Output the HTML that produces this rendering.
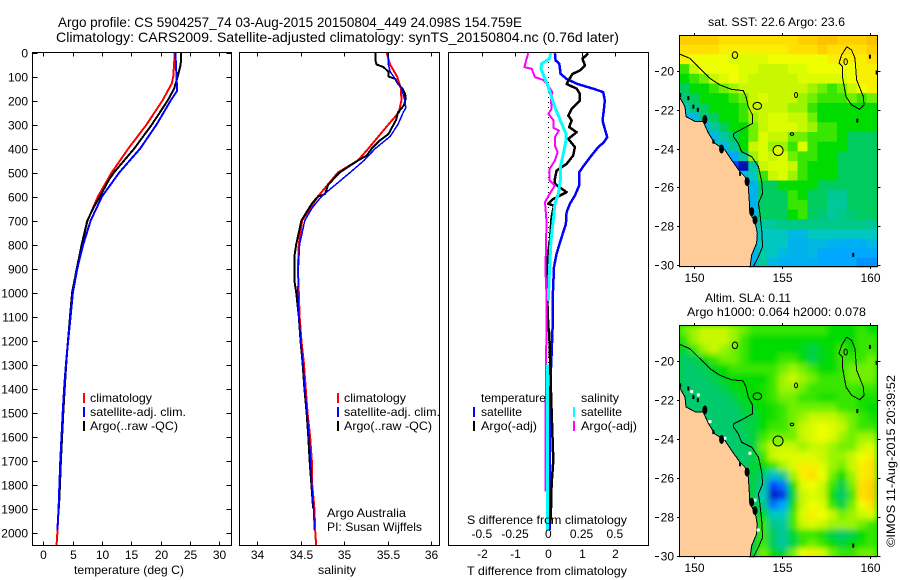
<!DOCTYPE html>
<html lang="en">
<head>
<meta charset="utf-8">
<title>Argo profile 5904257_74</title>
<style>
html,body{margin:0;padding:0;background:#fff;}
svg{display:block;font-family:"Liberation Sans",sans-serif;font-size:12px;fill:#000;}
</style>
</head>
<body>
<svg id="chart" xmlns="http://www.w3.org/2000/svg" width="900" height="580" viewBox="0 0 900 580">
  <defs>
    <clipPath id="clip-map-sst"><rect x="679.5" y="35.5" width="198" height="232"/></clipPath>
    <clipPath id="clip-map-sla"><rect x="679.5" y="325.5" width="198" height="232"/></clipPath>
    <clipPath id="clip-t"><rect x="32" y="52" width="200" height="494"/></clipPath>
    <clipPath id="clip-s"><rect x="239" y="52" width="201" height="494"/></clipPath>
    <clipPath id="clip-d"><rect x="448" y="52" width="201" height="494"/></clipPath>
    <filter id="sla-blur" x="-5%" y="-5%" width="110%" height="110%"><feGaussianBlur stdDeviation="3"/></filter>
  </defs>

  <text x="58" y="27" font-size="14" textLength="464" lengthAdjust="spacingAndGlyphs">Argo profile: CS 5904257_74 03-Aug-2015 20150804_449 24.098S 154.759E</text>
  <text x="56" y="42" font-size="14" textLength="563" lengthAdjust="spacingAndGlyphs">Climatology: CARS2009. Satellite-adjusted climatology: synTS_20150804.nc (0.76d later)</text>

  <g id="layer-t"></g>
  <g id="layer-s"></g>
  <g id="layer-d"></g>
  <g id="layer-map1"></g>
  <g id="layer-map2"></g>

  <text x="74" y="574" textLength="110" lengthAdjust="spacingAndGlyphs">temperature (deg C)</text>
  <text x="318" y="574" textLength="38" lengthAdjust="spacingAndGlyphs">salinity</text>
  <text x="467" y="524" textLength="160" lengthAdjust="spacingAndGlyphs">S difference from climatology</text>
  <text x="467" y="575" textLength="160" lengthAdjust="spacingAndGlyphs">T difference from climatology</text>

  <g>
    <rect x="83" y="393" width="2" height="10" fill="#f00"/>
    <rect x="83" y="407" width="2" height="10" fill="#00f"/>
    <rect x="83" y="421" width="2" height="10" fill="#000"/>
    <text x="90" y="402" textLength="62" lengthAdjust="spacingAndGlyphs">climatology</text>
    <text x="90" y="416" textLength="96" lengthAdjust="spacingAndGlyphs">satellite-adj. clim.</text>
    <text x="90" y="430" textLength="88" lengthAdjust="spacingAndGlyphs">Argo(..raw -QC)</text>
  </g>
  <g>
    <rect x="337" y="393" width="2" height="10" fill="#f00"/>
    <rect x="337" y="407" width="2" height="10" fill="#00f"/>
    <rect x="337" y="421" width="2" height="10" fill="#000"/>
    <text x="344" y="402" textLength="62" lengthAdjust="spacingAndGlyphs">climatology</text>
    <text x="344" y="416" textLength="96" lengthAdjust="spacingAndGlyphs">satellite-adj. clim.</text>
    <text x="344" y="430" textLength="88" lengthAdjust="spacingAndGlyphs">Argo(..raw -QC)</text>
    <text x="327" y="517" textLength="79" lengthAdjust="spacingAndGlyphs">Argo Australia</text>
    <text x="327" y="531" textLength="95" lengthAdjust="spacingAndGlyphs">PI: Susan Wijffels</text>
  </g>
  <g>
    <text x="481" y="402" textLength="65" lengthAdjust="spacingAndGlyphs">temperature</text>
    <rect x="473" y="407" width="2" height="10" fill="#00f"/>
    <text x="481" y="416" textLength="41" lengthAdjust="spacingAndGlyphs">satellite</text>
    <rect x="473" y="421" width="2" height="10" fill="#000"/>
    <text x="481" y="430" textLength="56" lengthAdjust="spacingAndGlyphs">Argo(-adj)</text>
    <text x="581" y="402" textLength="38" lengthAdjust="spacingAndGlyphs">salinity</text>
    <rect x="573" y="407" width="2" height="10" fill="#0ff"/>
    <text x="581" y="416" textLength="41" lengthAdjust="spacingAndGlyphs">satellite</text>
    <rect x="573" y="421" width="2" height="10" fill="#f0f"/>
    <text x="581" y="430" textLength="56" lengthAdjust="spacingAndGlyphs">Argo(-adj)</text>
  </g>

  <text x="708" y="26" textLength="137" lengthAdjust="spacingAndGlyphs">sat. SST: 22.6 Argo: 23.6</text>
  <text x="705" y="302" textLength="86" lengthAdjust="spacingAndGlyphs">Altim. SLA: 0.11</text>
  <text x="687" y="316" textLength="179" lengthAdjust="spacingAndGlyphs">Argo h1000: 0.064 h2000: 0.078</text>
  <text transform="translate(895,547) rotate(-90)" textLength="172" lengthAdjust="spacingAndGlyphs">©IMOS 11-Aug-2015 20:39:52</text>
</svg>

<script>
// ---------- profile data ----------
const depthTicks = [0,100,200,300,400,500,600,700,800,900,1000,1100,1200,1300,1400,1500,1600,1700,1800,1900,2000];
const tempTicks = [0,5,10,15,20,25,30];
const salTicks = ["34","34.5","35","35.5","36"];
const tDiffTicks = ["-2","-1","0","1","2"];
const sDiffTicks = ["-0.5","-0.25","0","0.25","0.5"];
const mapLonTicks = [150,155,160];
const mapLatTicks = [20,22,24,26,28,30];

const tempClimDepth = [0,100,130,200,300,400,500,600,700,800,900,1000,1100,1200,1300,1400,1500,1600,1700,1800,1900,2000,2055];
const tempClimValue = [22.4,22.15,21.87,20.3,17.6,14.5,11.65,9.3,7.55,6.6,5.8,5.0,4.6,4.2,3.85,3.55,3.3,3.1,2.9,2.75,2.6,2.4,2.25];
const tempSatDepth = [0,100,160,200,300,400,500,600,700,800,900,1000,1100,1200,1300,1400,1500,1600,1700,1800,1900,1990];
const tempSatValue = [22.5,22.7,22.8,21.7,19.3,16.5,12.95,10,8.07,6.8,5.8,5.05,4.65,4.25,3.85,3.55,3.3,3.1,2.9,2.75,2.6,2.4];
const tempArgoDepth = [0,50,80,100,150,200,300,400,500,530,600,640,700,800,900,1000,1100,1200,1300,1400,1500,1600,1700,1800,1900];
const tempArgoValue = [23.5,23.4,23.1,22.9,22.3,21.2,18.5,15.5,12.05,11.2,9.66,8.7,7.5,6.55,5.7,4.9,4.55,4.2,3.9,3.65,3.4,3.2,3.0,2.85,2.65];

const salClimDepth = [0,50,100,150,200,250,300,400,450,500,600,650,700,800,900,1000,1100,1200,1300,1400,1500,1600,1700,1800,1900,2000,2055];
const salClimValue = [35.49,35.53,35.61,35.655,35.66,35.63,35.51,35.28,35.16,34.93,34.7,34.61,34.52,34.48,34.47,34.48,34.49,34.51,34.54,34.56,34.58,34.61,34.63,34.635,34.66,34.67,34.68];
const salSatDepth = [0,50,80,100,130,150,200,230,250,300,350,400,450,500,600,650,700,800,900,1000,1100,1200,1300,1400,1500,1600,1700,1800,1900,1990];
const salSatValue = [35.51,35.51,35.53,35.57,35.62,35.66,35.7,35.71,35.68,35.62,35.53,35.36,35.23,35.07,34.74,34.63,34.55,34.49,34.475,34.47,34.48,34.5,34.53,34.55,34.575,34.6,34.617,34.63,34.65,34.66];
const salArgoDepth = [0,30,50,60,80,100,110,130,150,170,190,220,250,280,300,340,370,400,430,450,500,550,590,600,630,700,800,850,950,1000,1100,1200,1300,1400,1500,1600,1700,1800,1900];
const salArgoValue = [35.36,35.36,35.375,35.45,35.51,35.51,35.59,35.62,35.67,35.7,35.71,35.69,35.62,35.6,35.57,35.51,35.4,35.32,35.26,35.16,34.95,34.82,34.78,34.7,34.63,34.51,34.45,34.43,34.43,34.45,34.48,34.5,34.525,34.545,34.57,34.59,34.605,34.625,34.645];

const tDiffSatDepth = [3,33,47,89,110,130,151,165,200,242,283,318,353,374,394,429,471,499,554,596,631,665,714,783,838,894,1033,1144,1256,1352,1600,1990];
const tDiffSatValue = [0.2,0.22,0.33,0.37,0.55,0.85,1.35,1.65,1.7,1.67,1.63,1.7,1.77,1.67,1.5,1.3,1.07,0.93,0.93,0.8,0.65,0.55,0.53,0.37,0.25,0.17,0.13,0.13,0.1,0.07,0.05,0.05];
const tDiffArgoDepth = [3,26,54,75,89,117,131,151,172,200,235,263,283,311,332,360,394,429,464,492,526,547,582,610,631,638,686,783,853,922,1033,1144,1172,1458,1700,1797,1900,1964];
const tDiffArgoValue = [1.2,1.03,1.1,0.95,0.73,0.6,0.55,0.85,0.95,0.95,0.7,0.6,0.7,0.63,0.85,0.6,0.8,0.75,0.55,0.25,0.2,0.2,0.55,0.15,0,0.17,0.1,0.05,-0.03,-0.05,-0.03,0,0.03,0.09,0.15,0.1,0.08,0.06];
const sDiffSatDepth = [3,26,47,68,103,131,186,228,283,339,367,422,478,533,589,631,686,783,922,1033,1060,1300,1600,1991];
const sDiffSatValue = [0.018,0.008,-0.05,-0.055,-0.03,-0.008,0.025,0.05,0.09,0.133,0.133,0.113,0.09,0.09,0.075,0.05,0.04,0.02,0.0075,0,null,-0.005,-0.005,-0.005];
const sDiffArgoDepth = [3,26,61,68,103,114,131,165,200,235,256,283,314,325,353,388,415,450,485,533,554,589,623,714,783,922,1033,1500,1830];
const sDiffArgoValue = [-0.15,-0.163,-0.18,-0.125,-0.1,-0.04,-0.01,0.03,0.02,0.025,0,0.04,0.04,0.08,0.05,0.05,0.07,0.05,0.01,0.01,0.05,0.01,-0.025,-0.012,-0.018,-0.02,-0.012,-0.02,-0.02];

// ---------- map data: colour level per grid cell, north to south ----------
const sstLevels = [
[9.5,9.5,9.5,9.5,9,9,9,9,9,9,9,9,9.5,9.5,10,10,9.5,9.5,9.5,10],
[9,9,9,9,8.5,8.5,8.5,8.5,8.5,8.5,8.5,9,9,9,9.5,9,9,9,9,9.5],
[8.5,8,8,8,8,7.5,7.5,7.5,7.5,8,8,8,8,8,8,8.5,8.5,8.5,8.5,9],
[5.5,7,8,8,8,8,7.5,7.5,7,7,7,7.5,7.5,8,8,8,8,8,8.5,8.5],
[5,5.5,6,7,7.5,8,7.5,7,7,7,7,7,7.5,7.5,7.5,7.5,7.5,8,8.5,8.5],
[4.2,5,5,5.5,6,6.5,7,7,7,7,7,7,7,6.5,6,5.5,6,7,8,8.5],
[4,4.2,5,5,5,5.5,6,7,7.5,7,7,7,6.5,6,5.5,5.5,5.5,6,5.5,6],
[3,4,4.2,5,5,5,5.5,7,7,7,7,6.5,6.5,5.5,5,5,5,5,5,5],
[2.5,2.5,4,4.2,5,5,5.5,6.5,7,7.5,7.5,7,7,6,5,5,5,5,5,5],
[3,3,2.5,3.5,4.2,5,5,6,7,7.5,7.5,7.5,7,6.5,5.5,5.5,5,5,5,5],
[3,3,3,2.5,3.5,4.2,5,6,7.5,7,7,6,6,5.5,5.5,5.5,5,4.2,4.2,4.2],
[3,3,3,3,2.5,3.5,5,7,7.5,6.5,6.5,5.5,7.5,5.5,5,5,5,4.2,4.2,4.2],
[3,3,3,3,3,2,3.5,6.5,7.5,7,7.5,6,5.5,5.5,5,5,4.2,4.2,4.2,4.2],
[3,3,3,3,3,1,0.3,3.5,7,7.5,7.5,7,5.5,5,5,5,4.2,4.2,4.2,4.2],
[3,3,3,3,3,3,2.5,3,5.5,7,7.5,6.5,5.5,5,5,5,4.2,4.2,4.2,4.2],
[3,3,3,3,3,3,2,2.3,4.2,4.2,5,5,5,5,4.2,4.2,4.2,4.2,4.2,4.2],
[3,3,3,3,3,3,3,2.3,4.2,4.2,4.2,5.5,5,4.2,4.2,3.6,3.6,4.2,4.2,4.2],
[3,3,3,3,3,3,2,2.3,4.2,4.2,4.2,5.5,5.5,4.2,4.2,3.5,3.5,4.2,4.2,4.2],
[3,3,3,3,3,3,2,2.3,4.2,4.2,4.2,5,5.5,4.2,4,3.5,3.8,4,4.2,4.2],
[3,3,3,3,3,3,2,2.5,3.5,3.5,3.8,3.8,3.8,3.8,3.8,3.8,3.8,3.8,3.8,3.6],
[3,3,3,3,3,3,2,2.5,3,3,3,2.5,2.5,3,3,3,3,3,3,3],
[3,3,3,3,3,3,2,2.3,3,3,3,2.3,2.3,2.5,2.5,2.3,2.2,2.2,2.2,2.5],
[3,3,3,3,3,3,2,2.3,3.3,3,2.5,2.3,2.3,2.5,2,2,2,2,2,2],
[3,3,3,3,3,3,2,2.3,3.5,2.5,2.2,2.2,2.2,2.2,2,2,2,2,1.8,1.8]
];
const slaLevels = [
[6,6.5,7,7,7,6.5,6,5.5,5.5,5.5,5.5,5.5,5.5,5.5,5.5,5,5,5,5.5,5],
[5.5,6.5,7,7,7,6.5,5.5,5,5,5,5,5,5,5,5,5,5,5,5.5,5.5],
[4.6,5.5,6.5,7,6.5,6,5.5,5,5,5,5,5,4.8,4.4,4.8,5,5.5,5,5.5,5.5],
[4.1,4.3,5,5.5,6,6,5.5,5,5,5,5.5,5.5,5,4.4,4.8,5,5.5,5.5,5.5,6],
[4.1,4.1,4.3,4.8,5,5.5,5.5,5.5,5.5,5.5,6,6.5,6,5.5,5,5,5.5,6,6,6],
[4.1,4.1,4.1,4.4,4.8,5,5,5,5,5.5,6.5,7,6.5,6,5.5,5.5,5.5,6,6,6],
[4.1,4.1,4.1,4.1,4.4,4.8,5,5,5.2,5.5,6.5,6.5,6,5.5,5.5,5.5,5.5,5.5,5.5,5.5],
[4.1,4.1,4.1,4.1,4.1,4.4,4.8,5,5.2,5.5,6,6,5.5,5.5,5.2,5.2,5.5,5.5,5.2,5.2],
[4.1,4.1,4.1,4.1,4.1,4.1,4.5,4.8,5,5.2,5.5,6,6,6,6,6,5.5,5.5,5.2,5],
[4.1,4.1,4.1,4.1,4.1,4.1,4.3,4.5,5,5.2,5.5,6,6.5,7,7,7,6.5,6,5.5,5.2],
[4.1,4.1,4.1,4.1,4.1,4.1,4.3,4.5,5,5.5,5.5,6,7,7.5,8,7.5,7,6,5.5,5.5],
[4.1,4.1,4.1,4.1,4.1,4.1,4.2,4.5,5.5,6,6,6,7,7.5,8,7.5,6.5,6,6.5,6.5],
[4.1,4.1,4.1,4.1,4.1,4.1,4.2,4.5,6,7,7,7,6.5,7,7,6.5,6,6,7,7.5],
[4.1,4.1,4.1,4.1,4.1,4.1,4.1,4.4,5.5,7,7.5,7.5,7.5,7.5,7,6.5,6.5,7,8,8.5],
[4.1,4.1,4.1,4.1,4.1,4.1,4.2,4.5,5,5.5,6.5,7.5,8.5,8.5,7.5,6.5,6,7,8.5,9],
[4.1,4.1,4.1,4.1,4.1,4.1,4.2,4.5,4,2.6,3.6,6.5,8.5,9,8,6,5,6.5,8.5,9],
[4.1,4.1,4.1,4.1,4.1,4.1,4.2,4.5,3.5,1,1.5,5,7.5,8,7,5.5,4.4,6,9,9.5],
[4.1,4.1,4.1,4.1,4.1,4.1,4.2,4.5,3,0.4,0.8,4.4,7,7.5,7,5,4.1,5.5,9,9.5],
[4.1,4.1,4.1,4.1,4.1,4.1,4.2,4.5,4,1.5,2,5,7,8,7.5,5.5,4.5,6,8,9],
[4.1,4.1,4.1,4.1,4.1,4.1,4.2,4.5,5,3,3,5.5,7.5,8.5,8,7,6,6.5,7,7.5],
[4.1,4.1,4.1,4.1,4.1,4.1,4.2,4.5,5.5,3.8,3.5,5.5,7,7.5,7,6.5,6.5,6.5,6,5.5],
[4.1,4.1,4.1,4.1,4.1,4.1,4.2,4.5,5.5,4.2,3.5,4.6,5.5,5.5,5.2,4.4,4.1,4.4,5,5.5],
[4.1,4.1,4.1,4.1,4.1,4.1,4.2,4.5,5.5,4.2,3.4,4.4,5.5,6,5.5,5,4.5,5,5.2,5.5],
[4.1,4.1,4.1,4.1,4.1,4.1,4.2,4.5,6,5,4.4,6,8,8.5,7.5,6,5.5,5.5,6,6]
];
const colorStops = ["#00008c","#0040ff","#00a8ff","#00c8c0","#00c878","#00dc00","#70f000","#c8f800","#f0ff00","#ffe000","#ffc000"];

const coastLon = [149.15,149.47,149.53,150.04,150.5,150.8,151.17,151.74,152.12,152.6,152.88,153.07,153.12,153.16,153.45,153.58,153.54,153.26,153.16,149.15];
const coastLat = [21.32,21.84,22.35,22.6,22.6,23.2,23.73,24.07,24.59,25.2,25.45,25.96,26.65,27.34,27.77,28.37,28.88,29.48,30.15,30.15];
const isobathLon = [149.15,149.75,150.32,150.89,151.46,152.12,152.78,152.94,153.07,153.31,153.31,152.69,152.25,152.22,152.5,152.69,153.26,153.64,153.83,153.88,153.64,153.73,153.83,153.88,153.64,153.35];
const isobathLat = [19.12,19.35,19.86,20.38,20.72,20.95,21.01,21.32,21.84,22.27,22.7,23.01,23.21,23.38,23.73,24.16,24.42,24.93,25.7,26.31,26.82,27.34,28.2,29.05,29.57,30.09];
const ridgeLon = [158.66,158.94,159.13,159.22,159.6,159.64,159.41,158.94,158.62,158.43,158.43,158.22,158.37,158.66];
const ridgeLat = [18.75,18.92,19.35,20.46,21.32,21.75,21.98,21.75,21.32,20.38,19.78,19.6,19.18,18.75];
const shoalLon = [152.31,153.58,155.78,155.55,158.6];
const shoalLat = [19.18,21.8,21.24,23.25,19.52];
const reefSmallLon = [149.2,149.66,149.95,150.2,151.08,152.6,159.98,159.26,159.03,160.36];
const reefSmallLat = [21.24,21.4,21.84,22.0,23.64,25.3,19.26,22.56,29.48,20.08];
const reefLargeLon = [150.6,151.55,153.0,153.26,153.45];
const reefLargeLat = [22.5,24.02,25.7,27.25,27.68];
const gapLon = [149.85,150.23,150.89,151.74,153.16,153.45,153.64];
const gapLat = [21.56,21.73,23.1,23.96,24.73,27.14,28.68];
const argoLon = 154.759;
const argoLat = 24.098;
const sstArgoLevel = 7.6;
const slaArgoLevel = 6.3;

// ---------- axis functions ----------
const SVGNS = "http://www.w3.org/2000/svg";
const yDepth = d => 52.5 + d * 0.24;
const xTemp = t => 43.3 + t * 5.87;
const xSal = s => 257 + (s - 34) * 87;
const xTDiff = t => 548.3 + t * 33.25;
const xSDiff = s => 548.3 + s * 133;
const xLon = lon => 694.3 + (lon - 150) * 17.6;
const yLatSst = lat => 71 + (lat - 20) * 19.4;
const yLatSla = lat => 361.3 + (lat - 20) * 19.44;

function make(parent, tag, geom) {
  const n = document.createElementNS(SVGNS, tag);
  for (const k in geom) n.setAttribute(k, geom[k]);
  parent.appendChild(n);
  return n;
}
function hexRgb(h) { return [1,3,5].map(i => parseInt(h.substr(i,2),16)); }
function levelColor(v) {
  const c = Math.max(0, Math.min(colorStops.length - 1.001, v));
  const i = Math.floor(c), f = c - i;
  const a = hexRgb(colorStops[i]), b = hexRgb(colorStops[i+1]);
  return "rgb(" + a.map((x,k) => Math.round(x + (b[k]-x)*f)).join(",") + ")";
}
function drawProfile(layer, clip, depths, values, xf, color, width, name) {
  const segments = [[]];
  depths.forEach((d,i) => {
    if (values[i] === null) { segments.push([]); return; }
    segments[segments.length-1].push(xf(values[i]).toFixed(1) + "," + yDepth(d).toFixed(1));
  });
  segments.forEach(seg => {
    const line = make(layer, "polyline", {points: seg.join(" "), fill:"none", stroke:color, "stroke-width":width, "stroke-linejoin":"round", "shape-rendering":"crispEdges", "clip-path":"url(#"+clip+")"});
    
    
  });
}
function tickLine(layer, x1, y1, x2, y2, name) {
  const t = make(layer, "line", {x1:x1, y1:y1, x2:x2, y2:y2, stroke:"#000", "stroke-width":1, "shape-rendering":"crispEdges"});
  
  
}
function tickText(layer, x, y, anchor, str, name) {
  const t = make(layer, "text", {x:x, y:y, "text-anchor":anchor});
  t.textContent = str;
  
  
}
function frame(layer, x, y, w, h, name) {
  const r = make(layer, "rect", {x:x, y:y, width:w, height:h, fill:"none", stroke:"#000", "stroke-width":1, "shape-rendering":"crispEdges"});
  
  
}

// ---------- temperature panel ----------
const layerT = document.getElementById("layer-t");
drawProfile(layerT, "clip-t", tempClimDepth, tempClimValue, xTemp, "#f00", 2, "temperature-climatology-line");
drawProfile(layerT, "clip-t", tempArgoDepth, tempArgoValue, xTemp, "#000", 2, "temperature-argo-line");
drawProfile(layerT, "clip-t", tempSatDepth, tempSatValue, xTemp, "#00f", 2, "temperature-satellite-line");
frame(layerT, 32.5, 52.5, 199, 493, "temperature-panel-frame");
depthTicks.forEach(d => {
  const y = Math.round(yDepth(d)) + 0.5;
  tickLine(layerT, 32.5, y, 37.5, y, "depth-tick-left");
  tickLine(layerT, 226.5, y, 231.5, y, "depth-tick-right");
  tickText(layerT, 28, y + 4, "end", String(d), "depth-tick-label");
});
tempTicks.forEach(t => {
  const x = Math.round(xTemp(t)) + 0.5;
  tickLine(layerT, x, 52.5, x, 56.5, "temperature-tick-top");
  tickLine(layerT, x, 541.5, x, 545.5, "temperature-tick-bottom");
  tickText(layerT, x, 559, "middle", String(t), "temperature-tick-label");
});

// ---------- salinity panel ----------
const layerS = document.getElementById("layer-s");
drawProfile(layerS, "clip-s", salClimDepth, salClimValue, xSal, "#f00", 2, "salinity-climatology-line");
drawProfile(layerS, "clip-s", salArgoDepth, salArgoValue, xSal, "#000", 2, "salinity-argo-line");
drawProfile(layerS, "clip-s", salSatDepth, salSatValue, xSal, "#00f", 1.5, "salinity-satellite-line");
frame(layerS, 239.5, 52.5, 200, 493, "salinity-panel-frame");
salTicks.forEach(s => {
  const x = Math.round(xSal(Number(s))) + 0.5;
  tickLine(layerS, x, 52.5, x, 56.5, "salinity-tick-top");
  tickLine(layerS, x, 541.5, x, 545.5, "salinity-tick-bottom");
  tickText(layerS, x, 559, "middle", s, "salinity-tick-label");
});

// ---------- difference panel ----------
const layerD = document.getElementById("layer-d");
const zeroLine = make(layerD, "line", {x1:xTDiff(0), y1:52, x2:xTDiff(0), y2:480, stroke:"#000", "stroke-width":1, "stroke-dasharray":"1 4", "shape-rendering":"crispEdges"});


drawProfile(layerD, "clip-d", tDiffSatDepth, tDiffSatValue, xTDiff, "#00f", 2.5, "t-difference-satellite-line");
drawProfile(layerD, "clip-d", tDiffArgoDepth, tDiffArgoValue, xTDiff, "#000", 2.5, "t-difference-argo-line");
drawProfile(layerD, "clip-d", sDiffArgoDepth, sDiffArgoValue, xSDiff, "#f0f", 2, "s-difference-argo-line");
drawProfile(layerD, "clip-d", sDiffSatDepth, sDiffSatValue, xSDiff, "#0ff", 3, "s-difference-satellite-line");
frame(layerD, 448.5, 52.5, 200, 493, "difference-panel-frame");
tDiffTicks.forEach(t => {
  const x = Math.round(xTDiff(Number(t))) + 0.5;
  if (t !== "0") tickLine(layerD, x, 52.5, x, 56.5, "t-difference-tick-top");
  tickText(layerD, x, 558, "middle", t, "t-difference-tick-label");
});
sDiffTicks.forEach(s => {
  tickText(layerD, xSDiff(Number(s)), 538, "middle", s, "s-difference-tick-label");
});

// ---------- maps ----------
function drawMap(layer, levels, yLat, top, clip, argoLevel, blur, prefix) {
  const clipped = make(layer, "g", {"clip-path":"url(#"+clip+")"});
  
  
  const backing = make(clipped, "rect", {x:679, y:top, width:199, height:233, fill:levelColor(5)});
  
  
  const cellGroup = make(clipped, "g", blur ? {filter:"url(#sla-blur)"} : {});
  
  
  const lat0 = 20 + (top - yLat(20)) / (yLat(21) - yLat(20));
  const lon0 = 149.15, dLon = 0.56, dLat = 0.5;
  levels.forEach((row, j) => row.forEach((v, i) => {
    const x = xLon(lon0 + i * dLon), y = yLat(lat0 + j * dLat);
    const cell = make(cellGroup, "rect", {x:x.toFixed(2), y:y.toFixed(2), width:(dLon*17.6+0.5).toFixed(2), height:(dLat*(yLat(21)-yLat(20))+0.5).toFixed(2), fill:levelColor(v)});
    
    
  }));
  const land = make(clipped, "polygon", {points: coastLon.map((lon,i) => xLon(lon).toFixed(1)+","+yLat(coastLat[i]).toFixed(1)).join(" "), fill:"#ffcc99", stroke:"#000", "stroke-width":1, "shape-rendering":"crispEdges"});
  
  
  if (blur) {
    gapLon.forEach((lon,i) => {
      const g = make(clipped, "rect", {x:xLon(lon)-1.5, y:yLat(gapLat[i])-1.5, width:3, height:3, fill:"#fff"});
      
      
    });
  }
  const iso = make(clipped, "polyline", {points: isobathLon.map((lon,i) => xLon(lon).toFixed(1)+","+yLat(isobathLat[i]).toFixed(1)).join(" "), fill:"none", stroke:"#000", "stroke-width":1, "shape-rendering":"crispEdges"});
  
  
  const ridge = make(clipped, "polyline", {points: ridgeLon.map((lon,i) => xLon(lon).toFixed(1)+","+yLat(ridgeLat[i]).toFixed(1)).join(" "), fill:"none", stroke:"#000", "stroke-width":1, "shape-rendering":"crispEdges"});
  
  
  const shoalRx = [2.7,4.3,1.5,1.7,1.7], shoalRy = [3.3,3.5,2.5,1.3,3];
  shoalLon.forEach((lon,i) => {
    const e = make(clipped, "ellipse", {cx:xLon(lon), cy:yLat(shoalLat[i]), rx:shoalRx[i], ry:shoalRy[i], fill:"none", stroke:"#000", "stroke-width":1});
    
    
  });
  reefSmallLon.forEach((lon,i) => {
    const r = make(clipped, "rect", {x:xLon(lon)-1, y:yLat(reefSmallLat[i])-2, width:2, height:4, fill:"#000"});
    
    
  });
  reefLargeLon.forEach((lon,i) => {
    const r = make(clipped, "ellipse", {cx:xLon(lon), cy:yLat(reefLargeLat[i]), rx:2.5, ry:4.5, fill:"#000"});
    
    
  });
  const argo = make(clipped, "circle", {cx:xLon(argoLon), cy:yLat(argoLat), r:5, fill:levelColor(argoLevel), stroke:"#000", "stroke-width":1});
  
  

  frame(layer, 679.5, top + 0.5, 198, 231, prefix + '-map-frame');
  const bottom = top + 231.5;
  mapLonTicks.forEach(lon => {
    const x = Math.round(xLon(lon)) + 0.5;
    tickLine(layer, x, top - 2, x, top + 0.5, prefix + "-lon-tick-top");
    tickLine(layer, x, bottom, x, bottom + 2.5, prefix + "-lon-tick-bottom");
    tickText(layer, x, bottom + 15.5, "middle", String(lon), prefix + "-lon-tick-label");
  });
  mapLatTicks.forEach(lat => {
    const y = Math.round(yLat(lat)) + 0.5;
    tickLine(layer, 655, y, 659, y, prefix + "-lat-tick-outer");
    tickLine(layer, 677, y, 679.5, y, prefix + "-lat-tick-left");
    tickLine(layer, 877.5, y, 880.5, y, prefix + "-lat-tick-right");
    tickText(layer, 674, y + 4, "end", String(lat), prefix + "-lat-tick-label");
  });
}
drawMap(document.getElementById("layer-map1"), sstLevels, yLatSst, 35, "clip-map-sst", sstArgoLevel, false, "sst");
drawMap(document.getElementById("layer-map2"), slaLevels, yLatSla, 325, "clip-map-sla", slaArgoLevel, true, "sla");
</script>
</body>
</html>
